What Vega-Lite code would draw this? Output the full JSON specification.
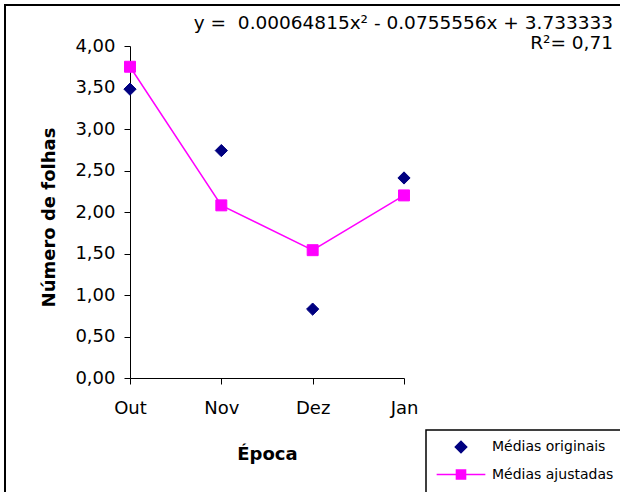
{
  "$schema": "https://vega.github.io/schema/vega-lite/v6.json",
  "width": 615,
  "height": 487,
  "autosize": {"type": "none"},
  "padding": {"left": 5, "top": 5, "right": 0, "bottom": 0},
  "background": "white",
  "title": {
    "text": ["y = \u00a00.00064815x² - 0.0755556x + 3.733333", "R²= 0,71"],
    "anchor": "end",
    "frame": "group",
    "align": "right",
    "baseline": "top",
    "offset": -39,
    "dx": -7,
    "dy": 8,
    "fontSize": 18.5,
    "font": "DejaVu Sans",
    "fontWeight": "normal",
    "lineHeight": 20,
    "color": "black"
  },
  "data": {
    "values": [
      {"mes": "Out", "i": 0, "serie": "Médias originais", "valor": 3.48},
      {"mes": "Nov", "i": 1, "serie": "Médias originais", "valor": 2.74},
      {"mes": "Dez", "i": 2, "serie": "Médias originais", "valor": 0.83},
      {"mes": "Jan", "i": 3, "serie": "Médias originais", "valor": 2.41},
      {"mes": "Out", "i": 0, "serie": "Médias ajustadas", "valor": 3.75},
      {"mes": "Nov", "i": 1, "serie": "Médias ajustadas", "valor": 2.08},
      {"mes": "Dez", "i": 2, "serie": "Médias ajustadas", "valor": 1.54},
      {"mes": "Jan", "i": 3, "serie": "Médias ajustadas", "valor": 2.20}
    ]
  },
  "encoding": {
    "x": {
      "field": "i",
      "type": "quantitative",
      "scale": {"domain": [-1.36861, 5.36496], "nice": false, "zero": false},
      "axis": {
        "title": "Época",
        "offset": -114,
        "values": [0, 1, 2, 3],
        "labelExpr": "['Out','Nov','Dez','Jan'][datum.value]",
        "domainDash": [0, 125, 274, 400],
        "titleX": 262,
        "titlePadding": 28,
        "labelPadding": 15
      }
    },
    "y": {
      "field": "valor",
      "type": "quantitative",
      "scale": {"domain": [-1.37349, 4.49398], "nice": false, "zero": false},
      "axis": {
        "title": "Número de folhas",
        "offset": -125,
        "values": [0, 0.5, 1, 1.5, 2, 2.5, 3, 3.5, 4],
        "labelExpr": "replace(format(datum.value, '.2f'), '.', ',')",
        "domainDash": [0, 114, 332, 400],
        "titleY": 212,
        "titlePadding": 16,
        "labelPadding": 9
      }
    }
  },
  "layer": [
    {
      "transform": [{"filter": "datum.serie === 'Médias ajustadas'"}],
      "mark": {"type": "line", "color": "#FF00FF", "strokeWidth": 1.5}
    },
    {
      "transform": [{"filter": "datum.serie === 'Médias originais'"}],
      "mark": {"type": "point", "filled": true, "opacity": 1, "size": 150, "strokeWidth": 1},
      "encoding": {
        "fill": {
          "field": "serie",
          "type": "nominal",
          "scale": {"domain": ["Médias originais", "Médias ajustadas"], "range": ["#000080", "#FF00FF"]},
          "legend": {"title": null, "orient": "none", "legendX": 421, "legendY": 425}
        },
        "stroke": {
          "field": "serie",
          "type": "nominal",
          "scale": {"domain": ["Médias originais", "Médias ajustadas"], "range": ["#000080", "#FF00FF"]},
          "legend": {"title": null, "orient": "none", "legendX": 421, "legendY": 425}
        },
        "shape": {
          "field": "serie",
          "type": "nominal",
          "scale": {"domain": ["Médias originais", "Médias ajustadas"], "range": ["diamond", "M-4.27,0H4.27M-0.8,-0.8H0.8V0.8H-0.8Z"]},
          "legend": {"title": null, "orient": "none", "legendX": 421, "legendY": 425}
        }
      }
    },
    {
      "transform": [{"filter": "datum.serie === 'Médias ajustadas'"}],
      "mark": {"type": "point", "filled": true, "opacity": 1, "shape": "square", "size": 120, "strokeWidth": 1},
      "encoding": {
        "fill": {"field": "serie", "type": "nominal"},
        "stroke": {"field": "serie", "type": "nominal"}
      }
    }
  ],
  "config": {
    "view": {"stroke": "black", "strokeWidth": 2, "strokeDash": [615, 1102, 487]},
    "axis": {
      "grid": false,
      "domainColor": "black",
      "domainWidth": 1,
      "tickColor": "black",
      "tickSize": 6,
      "labelFont": "DejaVu Sans",
      "labelFontSize": 18,
      "labelColor": "black",
      "titleFont": "DejaVu Sans",
      "titleFontSize": 18,
      "titleFontWeight": "bold",
      "titleColor": "black"
    },
    "legend": {
      "strokeColor": "black",
      "strokeWidth": 1.5,
      "padding": 10,
      "symbolOffset": 18,
      "symbolSize": 130,
      "symbolStrokeWidth": 1.5,
      "labelOffset": 24,
      "labelFont": "DejaVu Sans",
      "labelFontSize": 14,
      "labelColor": "black",
      "rowPadding": 10.5,
      "symbolOpacity": 1
    }
  }
}
